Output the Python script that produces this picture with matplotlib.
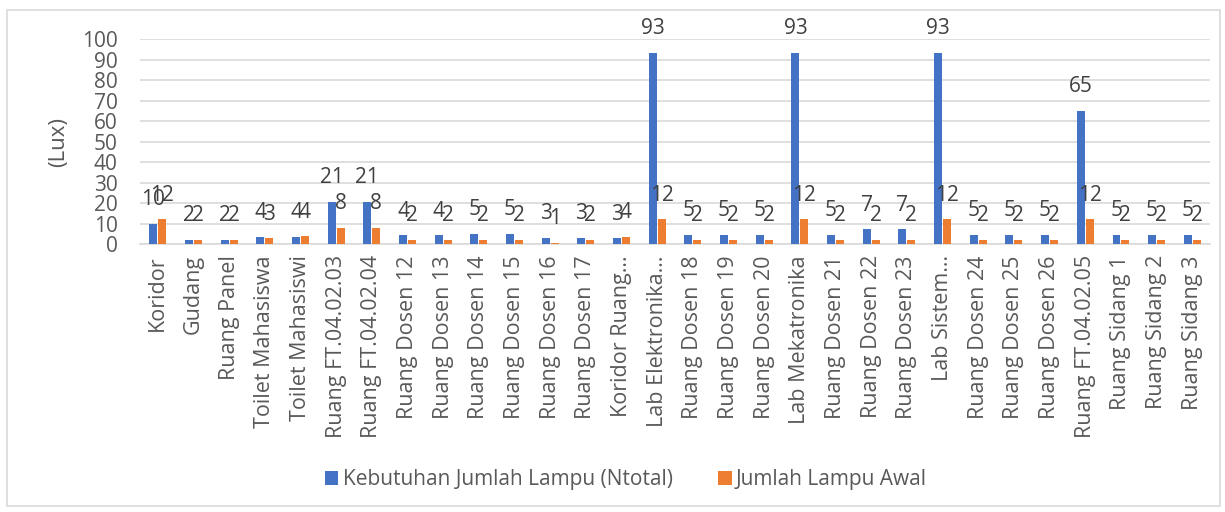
import matplotlib.pyplot as plt
import numpy as np
from matplotlib.patches import Rectangle

plt.rcParams['font.family'] = ['Open Sans', 'DejaVu Sans']

# Room names (truncated as in the original chart)
rooms = [
    'Koridor', 'Gudang', 'Ruang Panel', 'Toilet Mahasiswa', 'Toilet Mahasiswi',
    'Ruang FT.04.02.03', 'Ruang FT.04.02.04', 'Ruang Dosen 12', 'Ruang Dosen 13',
    'Ruang Dosen 14', 'Ruang Dosen 15', 'Ruang Dosen 16', 'Ruang Dosen 17',
    'Koridor Ruang…', 'Lab Elektronika…', 'Ruang Dosen 18', 'Ruang Dosen 19',
    'Ruang Dosen 20', 'Lab Mekatronika', 'Ruang Dosen 21', 'Ruang Dosen 22',
    'Ruang Dosen 23', 'Lab Sistem…', 'Ruang Dosen 24', 'Ruang Dosen 25',
    'Ruang Dosen 26', 'Ruang FT.04.02.05', 'Ruang Sidang 1', 'Ruang Sidang 2',
    'Ruang Sidang 3'
]

# Kebutuhan Jumlah Lampu (Ntotal)
kebutuhan = [9.7, 2.0, 2.0, 3.6, 3.6, 20.6, 20.6, 4.2, 4.2, 4.7, 4.7, 2.8, 2.8,
             2.7, 93, 4.6, 4.6, 4.6, 93, 4.6, 7.1, 7.1, 93, 4.6, 4.6, 4.6, 65,
             4.6, 4.6, 4.6]

# Jumlah Lampu Awal
awal = [12, 2, 2, 2.7, 3.7, 8, 8, 1.8, 1.8, 1.8, 1.8, 0.7, 1.8,
        3.6, 12, 1.8, 1.8, 1.8, 12, 1.8, 1.8, 1.8, 12, 1.8, 1.8, 1.8, 12,
        1.8, 1.8, 1.8]

blue = '#4472C4'
orange = '#ED7D31'
text_col = '#404040'
label_col = '#595959'

fig = plt.figure(figsize=(12.25, 5.12), dpi=100)
ax = fig.add_axes([0.1143, 0.5234, 0.8735, 0.4004])

x = np.arange(len(rooms))
w = 0.22
b1 = ax.bar(x - 0.125, kebutuhan, w, color=blue, label='Kebutuhan Jumlah Lampu (Ntotal)', zorder=3)
b2 = ax.bar(x + 0.125, awal, w, color=orange, label='Jumlah Lampu Awal', zorder=3)

for bars in (b1, b2):
    ax.bar_label(bars, fmt='%.0f', padding=10, fontsize=15, color=text_col, clip_on=False)

ax.set_xlim(-0.5, len(rooms) - 0.5)
ax.set_ylim(0, 100)
ax.set_yticks(range(0, 101, 10))
ax.yaxis.grid(True, color='#D9D9D9', linewidth=1.2, zorder=0)
ax.set_axisbelow(True)

for s in ['top', 'right', 'left']:
    ax.spines[s].set_visible(False)
ax.spines['bottom'].set_color('#D9D9D9')
ax.spines['bottom'].set_linewidth(1.2)

ax.set_xticks(x)
ax.set_xticklabels(rooms, rotation=90, fontsize=15.5, color=label_col)
ax.tick_params(axis='both', length=0)
ax.tick_params(axis='y', labelsize=15, labelcolor=label_col, pad=16)
ax.tick_params(axis='x', pad=8)
ax.set_ylabel('(Lux)', fontsize=16, color=label_col, labelpad=9)

fig.legend(handles=[b1, b2], loc='center', bbox_to_anchor=(0.511, 0.0625), ncol=2,
           frameon=False, fontsize=15, handlelength=0.65, handleheight=0.65,
           handletextpad=0.2, columnspacing=2.2, labelcolor=label_col)

# light frame around the chart area
fig.patches.append(Rectangle((7 / 1225, 1 - 506 / 512), 1213 / 1225, 496 / 512,
                             transform=fig.transFigure, fill=False,
                             edgecolor='#D9D9D9', linewidth=1.2))

plt.savefig('out.png', dpi=100)
